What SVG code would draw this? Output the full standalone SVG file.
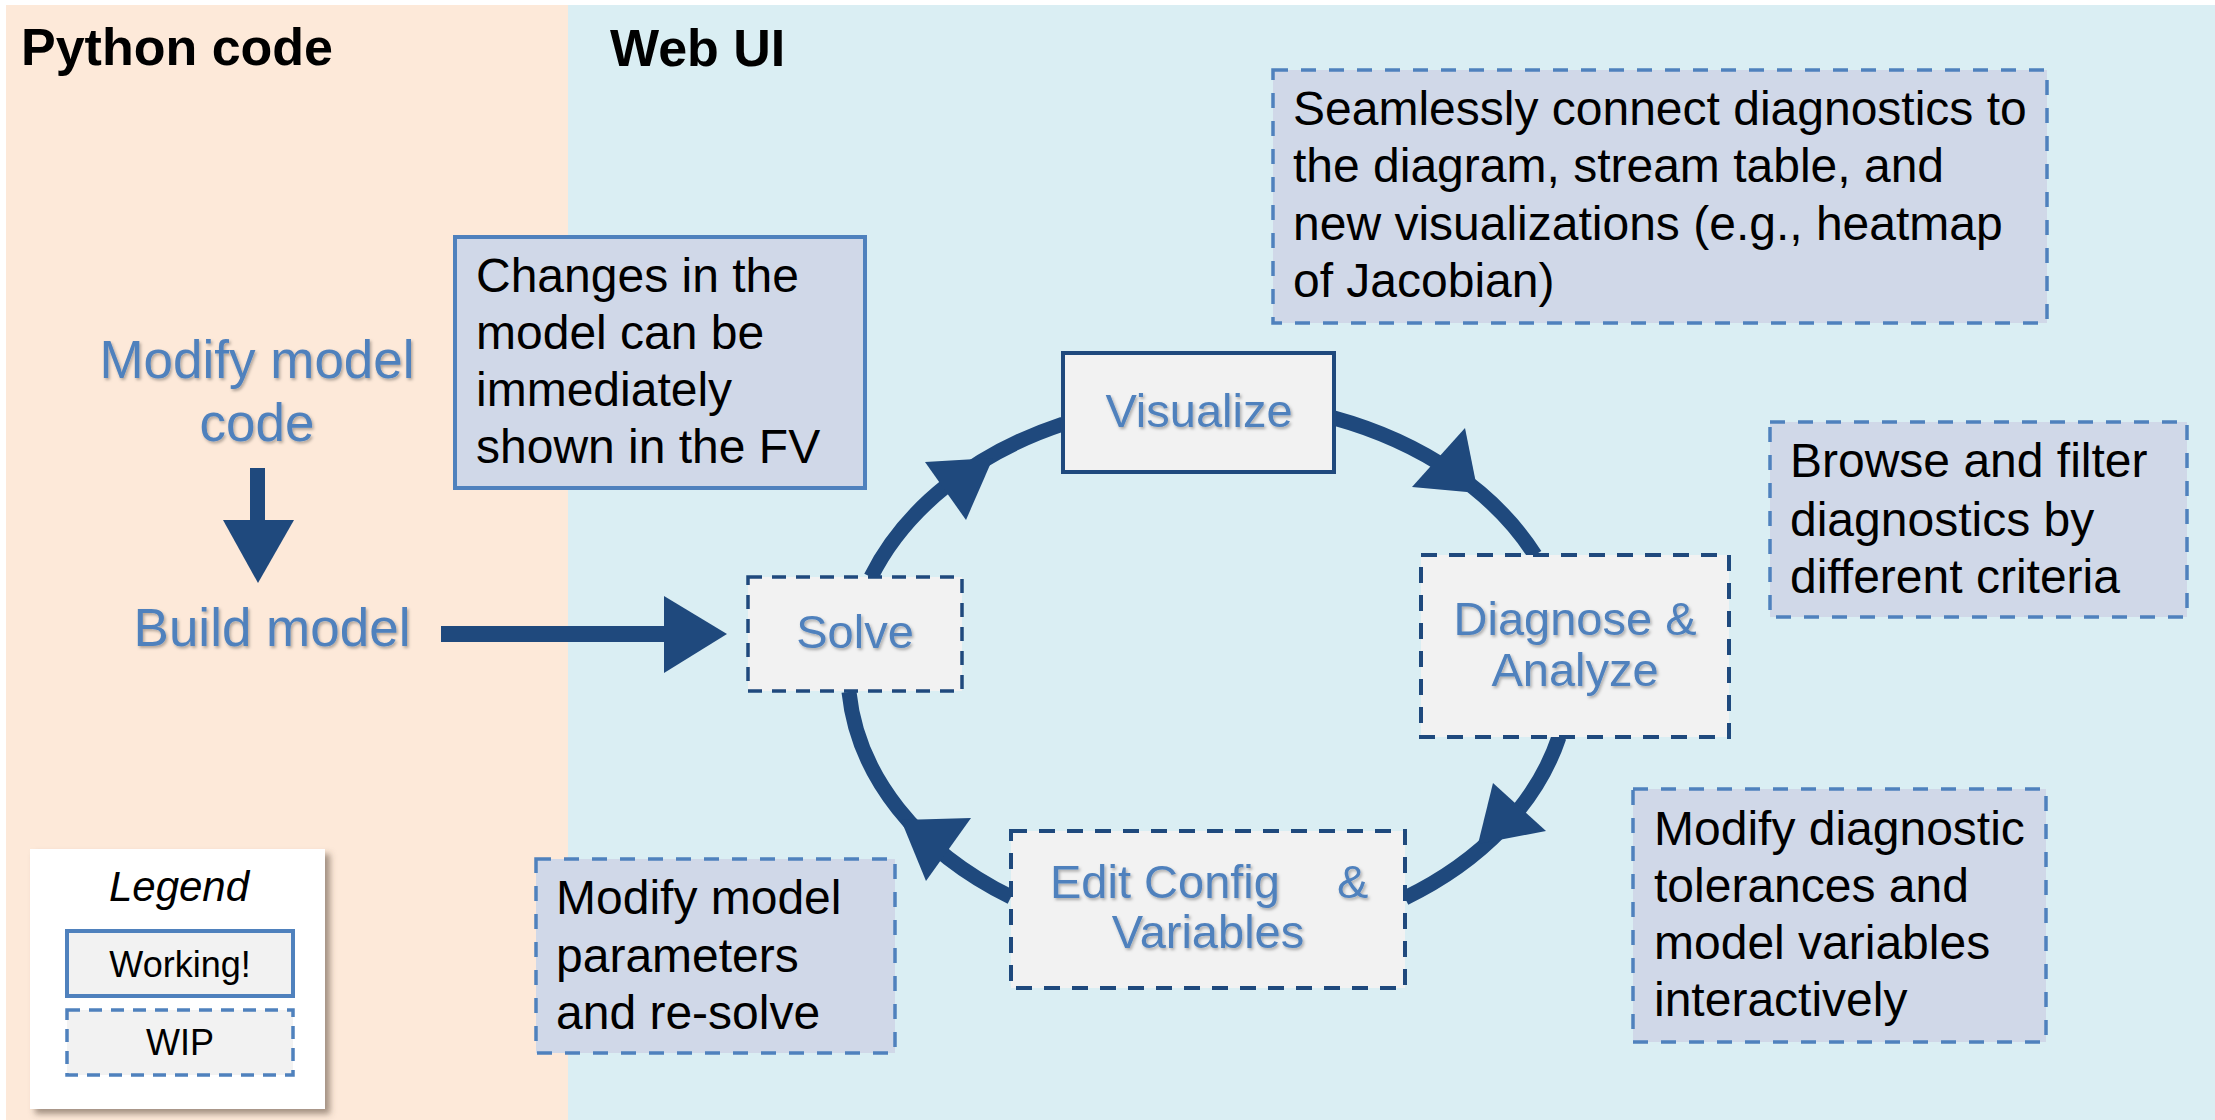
<svg xmlns="http://www.w3.org/2000/svg" width="2215" height="1120" viewBox="0 0 2215 1120">
<defs>
<style>
.title { font-family: "Liberation Sans", Arial, sans-serif; font-size: 52px; font-weight: bold; fill: #000; }
.lbl { font-family: "Liberation Sans", Arial, sans-serif; font-size: 47px; fill: #4F81BD; filter: url(#tshadow); }
.big { font-size: 53px; }
.body { font-family: "Liberation Sans", Arial, sans-serif; font-size: 48px; fill: #000; }
.leg { font-family: "Liberation Sans", Arial, sans-serif; font-size: 36px; fill: #000; }
.legtitle { font-family: "Liberation Sans", Arial, sans-serif; font-size: 42px; font-style: italic; fill: #000; }
.note { fill: #D0D8E8; stroke: #4F81BD; stroke-width: 3.5; stroke-dasharray: 15 13; }
.notesolid { fill: #D0D8E8; stroke: #4F81BD; stroke-width: 4; }
.node { fill: #F2F2F2; stroke: #1F497D; stroke-width: 4; stroke-dasharray: 16 12; }
.nodesolid { fill: #F2F2F2; stroke: #1F497D; stroke-width: 4; }
.conn { fill: none; stroke: #1F497D; stroke-width: 15; }
.head { fill: #1F497D; }
</style>
<filter id="tshadow" x="-10%" y="-10%" width="130%" height="140%">
<feDropShadow dx="1.5" dy="2" stdDeviation="1.5" flood-color="#000" flood-opacity="0.3"/>
</filter>
<filter id="bshadow" x="-10%" y="-10%" width="130%" height="130%">
<feDropShadow dx="5" dy="5" stdDeviation="3" flood-color="#5a4a3a" flood-opacity="0.55"/>
</filter>
</defs>

<rect x="0" y="0" width="2215" height="1120" fill="#FFFFFF"/>
<rect x="6" y="5" width="562" height="1115" fill="#FDE9D9"/>
<rect x="568" y="5" width="1647" height="1115" fill="#DAEEF3"/>

<text class="title" x="21" y="65">Python code</text>
<text class="title" x="610" y="66">Web UI</text>

<g id="connectors">
<path class="conn" d="M 871 577 A 361 270 0 0 1 1063 424"/>
<path class="conn" d="M 1334 418 A 361 270 0 0 1 1535 555"/>
<path class="conn" d="M 1559 737 A 361 270 0 0 1 1405 898"/>
<path class="conn" d="M 1011 897 A 361 270 0 0 1 849 692"/>
<polygon class="head" points="925,462 993,458 966,520"/>
<polygon class="head" points="1412,487 1465,428 1478,493"/>
<polygon class="head" points="1493,783 1546,831 1478,844"/>
<polygon class="head" points="971,818 926,881 901,820"/>
<rect class="head" x="250" y="468" width="15" height="54"/>
<polygon class="head" points="223,520 294,520 258,583"/>
<rect class="head" x="441" y="626" width="225" height="16"/>
<polygon class="head" points="664,596 664,673 727,634"/>
</g>

<g id="modify-code">
<text class="lbl big" x="257" y="378" text-anchor="middle">Modify model</text>
<text class="lbl big" x="257" y="441" text-anchor="middle">code</text>
</g>

<g id="build-model">
<text class="lbl big" x="272" y="646" text-anchor="middle">Build model</text>
</g>

<g id="note-changes">
<rect class="notesolid" x="455" y="237" width="410" height="251"/>
<text class="body" x="476" y="292">Changes in the</text>
<text class="body" x="476" y="349">model can be</text>
<text class="body" x="476" y="406">immediately</text>
<text class="body" x="476" y="463">shown in the FV</text>
</g>

<g id="solve">
<rect class="node" x="748" y="577" width="214" height="114" style="stroke-width:3.5;stroke-dasharray:14 10"/>
<text class="lbl" x="855" y="648" text-anchor="middle">Solve</text>
</g>

<g id="visualize">
<rect class="nodesolid" x="1063" y="353" width="271" height="119"/>
<text class="lbl" x="1199" y="427" text-anchor="middle">Visualize</text>
</g>

<g id="diagnose">
<rect class="node" x="1421" y="555" width="308" height="182"/>
<text class="lbl" x="1575" y="635" text-anchor="middle">Diagnose &amp;</text>
<text class="lbl" x="1575" y="686" text-anchor="middle">Analyze</text>
</g>

<g id="edit">
<rect class="node" x="1011" y="831" width="394" height="157"/>
<text class="lbl" x="1050" y="898">Edit Config<tspan x="1337">&amp;</tspan></text>
<text class="lbl" x="1208" y="948" text-anchor="middle">Variables</text>
</g>

<g id="note-seamless">
<rect class="note" x="1273" y="70" width="774" height="253"/>
<text class="body" x="1293" y="125">Seamlessly connect diagnostics to</text>
<text class="body" x="1293" y="182">the diagram, stream table, and</text>
<text class="body" x="1293" y="240">new visualizations (e.g., heatmap</text>
<text class="body" x="1293" y="297">of Jacobian)</text>
</g>

<g id="note-browse">
<rect class="note" x="1770" y="422" width="417" height="195"/>
<text class="body" x="1790" y="477">Browse and filter</text>
<text class="body" x="1790" y="536">diagnostics by</text>
<text class="body" x="1790" y="593">different criteria</text>
</g>

<g id="note-tolerances">
<rect class="note" x="1633" y="789" width="413" height="253"/>
<text class="body" x="1654" y="845">Modify diagnostic</text>
<text class="body" x="1654" y="902">tolerances and</text>
<text class="body" x="1654" y="959">model variables</text>
<text class="body" x="1654" y="1016">interactively</text>
</g>

<g id="note-params">
<rect class="note" x="536" y="859" width="359" height="194"/>
<text class="body" x="556" y="914">Modify model</text>
<text class="body" x="556" y="972">parameters</text>
<text class="body" x="556" y="1029">and re-solve</text>
</g>

<g id="legend">
<rect x="30" y="849" width="295" height="260" fill="#FFFFFF" filter="url(#bshadow)"/>
<text class="legtitle" x="179" y="901" text-anchor="middle">Legend</text>
<rect x="67" y="931" width="226" height="65" fill="#F2F2F2" stroke="#4F81BD" stroke-width="4"/>
<text class="leg" x="180" y="977" text-anchor="middle">Working!</text>
<rect x="67" y="1010" width="226" height="65" fill="#F2F2F2" stroke="#4F81BD" stroke-width="3.5" stroke-dasharray="13 9"/>
<text class="leg" x="180" y="1055" text-anchor="middle">WIP</text>
</g>
</svg>
